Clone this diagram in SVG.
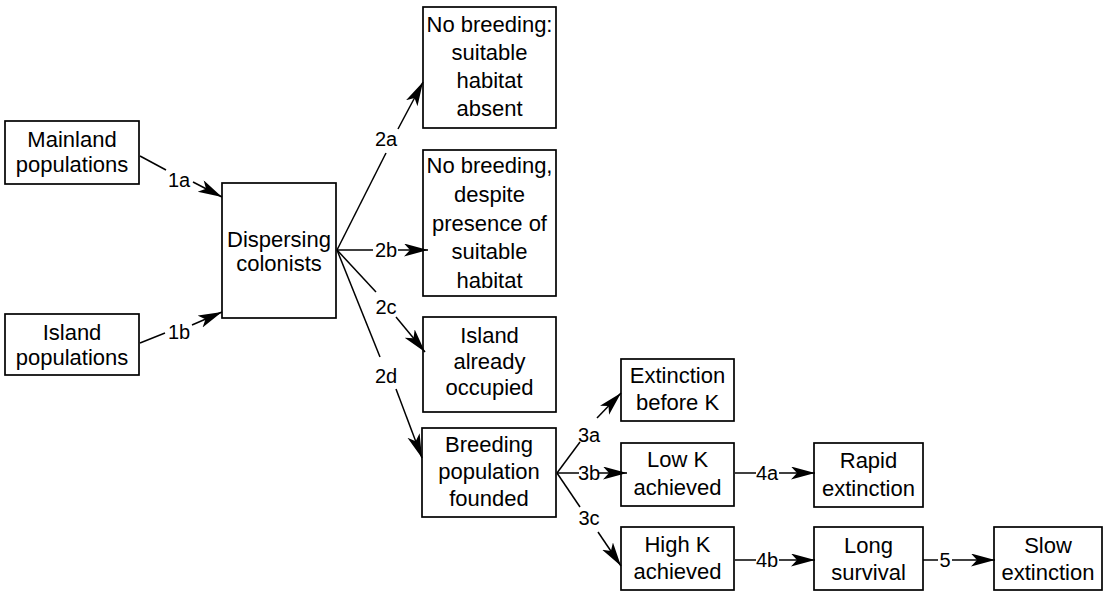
<svg xmlns="http://www.w3.org/2000/svg" width="1107" height="593" viewBox="0 0 1107 593">
<style>
  .box { fill: #fff; stroke: #000; stroke-width: 1.7; }
  .t { font-family: "Liberation Sans", Arial, sans-serif; font-size: 22px; text-anchor: middle; fill: #000; }
  .lbl { font-family: "Liberation Sans", Arial, sans-serif; font-size: 20px; text-anchor: middle; fill: #000; }
  .ln { stroke: #000; stroke-width: 1.5; fill: none; }
  .ar { stroke: #000; stroke-width: 1.5; fill: none; marker-end: url(#ah); }
</style>
<defs>
  <marker id="ah" markerUnits="userSpaceOnUse" markerWidth="26" markerHeight="14" refX="24" refY="6.5" orient="auto">
    <path d="M0,0 L24,6.5 L0,13 L6,6.5 z" fill="#000"/>
  </marker>
</defs>
<rect width="1107" height="593" fill="#fff"/>

<g id="mainland">
  <rect class="box" x="5" y="121" width="134" height="63"/>
  <text class="t" x="72" y="147">Mainland</text>
  <text class="t" x="72" y="172">populations</text>
</g>
<g id="island">
  <rect class="box" x="5" y="314" width="134" height="61"/>
  <text class="t" x="72" y="340">Island</text>
  <text class="t" x="72" y="365">populations</text>
</g>
<g id="dispersing">
  <rect class="box" x="222" y="183" width="114" height="135"/>
  <text class="t" x="279" y="247">Dispersing</text>
  <text class="t" x="279" y="271">colonists</text>
</g>
<g id="nobreed-absent">
  <rect class="box" x="423" y="7" width="133" height="121"/>
  <text class="t" x="489.5" y="32">No breeding:</text>
  <text class="t" x="489.5" y="60">suitable</text>
  <text class="t" x="489.5" y="88">habitat</text>
  <text class="t" x="489.5" y="116">absent</text>
</g>
<g id="nobreed-despite">
  <rect class="box" x="423" y="150" width="133" height="146"/>
  <text class="t" x="489.5" y="173">No breeding,</text>
  <text class="t" x="489.5" y="202">despite</text>
  <text class="t" x="489.5" y="231">presence of</text>
  <text class="t" x="489.5" y="259">suitable</text>
  <text class="t" x="489.5" y="288">habitat</text>
</g>
<g id="occupied">
  <rect class="box" x="423" y="317" width="133" height="95"/>
  <text class="t" x="489.5" y="343">Island</text>
  <text class="t" x="489.5" y="369">already</text>
  <text class="t" x="489.5" y="395">occupied</text>
</g>
<g id="breeding">
  <rect class="box" x="422" y="428" width="134" height="89"/>
  <text class="t" x="489" y="452">Breeding</text>
  <text class="t" x="489" y="479">population</text>
  <text class="t" x="489" y="506">founded</text>
</g>
<g id="extinction-before">
  <rect class="box" x="621" y="359" width="113" height="62"/>
  <text class="t" x="677.5" y="383">Extinction</text>
  <text class="t" x="677.5" y="410">before K</text>
</g>
<g id="lowk">
  <rect class="box" x="621" y="443" width="113" height="63"/>
  <text class="t" x="677.5" y="467">Low K</text>
  <text class="t" x="677.5" y="495">achieved</text>
</g>
<g id="highk">
  <rect class="box" x="621" y="527" width="113" height="63"/>
  <text class="t" x="677.5" y="552">High K</text>
  <text class="t" x="677.5" y="579">achieved</text>
</g>
<g id="rapid">
  <rect class="box" x="814" y="443" width="109" height="64"/>
  <text class="t" x="868.5" y="468">Rapid</text>
  <text class="t" x="868.5" y="496">extinction</text>
</g>
<g id="long">
  <rect class="box" x="814" y="527" width="109" height="63"/>
  <text class="t" x="868.5" y="553">Long</text>
  <text class="t" x="868.5" y="580">survival</text>
</g>
<g id="slow">
  <rect class="box" x="994" y="527" width="108" height="63"/>
  <text class="t" x="1048" y="553">Slow</text>
  <text class="t" x="1048" y="580">extinction</text>
</g>

<g id="connectors">
  <line class="ln" x1="140" y1="156" x2="166" y2="170"/>
  <line class="ar" x1="193" y1="182" x2="222" y2="197"/>
  <text class="lbl" x="179" y="187">1a</text>

  <line class="ln" x1="140" y1="343" x2="165" y2="333"/>
  <line class="ar" x1="192" y1="325" x2="222" y2="312"/>
  <text class="lbl" x="179" y="339">1b</text>

  <line class="ln" x1="337" y1="250" x2="386" y2="153"/>
  <line class="ar" x1="398" y1="129" x2="423" y2="82"/>
  <text class="lbl" x="386" y="146">2a</text>

  <line class="ln" x1="337" y1="250" x2="373" y2="250"/>
  <line class="ar" x1="398" y1="250" x2="428" y2="250"/>
  <text class="lbl" x="386" y="257">2b</text>

  <line class="ln" x1="337" y1="250" x2="376" y2="292"/>
  <line class="ar" x1="396" y1="317" x2="425" y2="352"/>
  <text class="lbl" x="386" y="314">2c</text>

  <line class="ln" x1="337" y1="250" x2="380" y2="357"/>
  <line class="ar" x1="396" y1="389" x2="422" y2="458"/>
  <text class="lbl" x="386" y="383">2d</text>

  <line class="ln" x1="557" y1="473" x2="580" y2="442"/>
  <line class="ar" x1="597" y1="418" x2="621" y2="393"/>
  <text class="lbl" x="589" y="442">3a</text>

  <line class="ln" x1="557" y1="473" x2="579" y2="473"/>
  <line class="ar" x1="598" y1="473" x2="627" y2="473"/>
  <text class="lbl" x="589" y="480">3b</text>

  <line class="ln" x1="557" y1="473" x2="580" y2="507"/>
  <line class="ar" x1="598" y1="532" x2="621" y2="566"/>
  <text class="lbl" x="589" y="525">3c</text>

  <line class="ln" x1="735" y1="473" x2="756" y2="473"/>
  <line class="ar" x1="779" y1="473" x2="815" y2="473"/>
  <text class="lbl" x="767" y="480">4a</text>

  <line class="ln" x1="735" y1="560" x2="756" y2="560"/>
  <line class="ar" x1="779" y1="560" x2="815" y2="560"/>
  <text class="lbl" x="767" y="567">4b</text>

  <line class="ln" x1="923" y1="560" x2="938" y2="560"/>
  <line class="ar" x1="952" y1="560" x2="995" y2="560"/>
  <text class="lbl" x="945" y="567">5</text>
</g>
</svg>
